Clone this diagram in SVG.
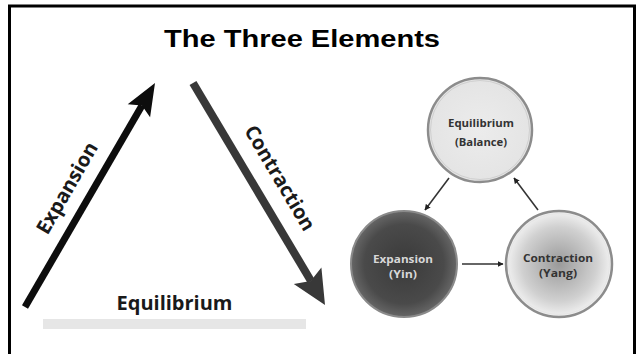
<svg xmlns="http://www.w3.org/2000/svg" width="637" height="354" viewBox="0 0 637 354">
  <style>
    .lbl { font-family: "Open Sans", "DejaVu Sans", sans-serif; font-weight: bold; }
    .big { font-size: 20px; fill: #1a1a1a; }
    .small { font-size: 10px; }
    .conn { stroke: #333; stroke-width: 1.6; fill: none; marker-end: url(#ah); }
  </style>
  <defs>
    <marker id="ah" viewBox="0 0 10 10" refX="9" refY="5" markerWidth="6" markerHeight="6" orient="auto" markerUnits="userSpaceOnUse">
      <path d="M0,0 L10,5 L0,10 Z" fill="#222"/>
    </marker>
    <radialGradient id="gTop" cx="50%" cy="50%" r="50%">
      <stop offset="0%" stop-color="#ececec"/>
      <stop offset="100%" stop-color="#e4e4e4"/>
    </radialGradient>
    <radialGradient id="gExp" cx="50%" cy="50%" r="50%">
      <stop offset="0%" stop-color="#3a3a3a"/>
      <stop offset="75%" stop-color="#4a4a4a"/>
      <stop offset="100%" stop-color="#666"/>
    </radialGradient>
    <radialGradient id="gCon" cx="50%" cy="50%" r="50%">
      <stop offset="0%" stop-color="#9a9a9a"/>
      <stop offset="70%" stop-color="#d0d0d0"/>
      <stop offset="100%" stop-color="#f2f2f2"/>
    </radialGradient>
  </defs>

  <rect width="637" height="354" fill="#fff"/>
  <path d="M9.5,354 V6 H634.5 V354" fill="none" stroke="#000" stroke-width="3"/>

  <text x="302" y="47" font-family="Liberation Sans, Arial, sans-serif" font-weight="bold" font-size="23" text-anchor="middle" textLength="276" lengthAdjust="spacingAndGlyphs" fill="#000">The Three Elements</text>

  <!-- left triangle -->
  <g id="expansion-arrow">
    <line x1="25" y1="307" x2="142" y2="105.5" stroke="#0d0d0d" stroke-width="7"/>
    <polygon points="155,83 150.1,117.2 141.9,105.5 127.7,104.2" fill="#0d0d0d"/>
    <text class="lbl big" transform="translate(67,188) rotate(-60)" x="0" y="7" text-anchor="middle">Expansion</text>
  </g>
  <g id="contraction-arrow">
    <line x1="193" y1="83" x2="311" y2="281" stroke="#383838" stroke-width="8"/>
    <polygon points="325,305 293.8,284 310.7,281 321.4,267.6" fill="#383838"/>
    <text class="lbl big" transform="translate(280,178) rotate(59.3)" x="0" y="7" text-anchor="middle">Contraction</text>
  </g>
  <g id="equilibrium-base">
    <rect x="43" y="319" width="263" height="10" fill="#e6e6e6"/>
    <text class="lbl big" x="174.5" y="310" text-anchor="middle">Equilibrium</text>
  </g>

  <!-- right cycle -->
  <g id="node-equilibrium">
    <circle cx="480" cy="130" r="52" fill="url(#gTop)" stroke="#8c8c8c" stroke-width="2.5"/>
    <circle cx="480" cy="130" r="49.5" fill="none" stroke="#cfcfcf" stroke-width="1"/>
    <text class="lbl small" x="481" y="127" text-anchor="middle" fill="#333" textLength="66" lengthAdjust="spacingAndGlyphs">Equilibrium</text>
    <text class="lbl small" x="481" y="146" text-anchor="middle" fill="#333" textLength="52" lengthAdjust="spacingAndGlyphs">(Balance)</text>
  </g>
  <g id="node-expansion">
    <circle cx="404" cy="264" r="53" fill="url(#gExp)" stroke="#8a8a8a" stroke-width="2"/>
    <text class="lbl small" x="403" y="263" text-anchor="middle" fill="#d8d8d8" textLength="60" lengthAdjust="spacingAndGlyphs">Expansion</text>
    <text class="lbl small" x="403" y="278" text-anchor="middle" fill="#d8d8d8" textLength="28" lengthAdjust="spacingAndGlyphs">(Yin)</text>
  </g>
  <g id="node-contraction">
    <circle cx="559" cy="264" r="53" fill="url(#gCon)" stroke="#8c8c8c" stroke-width="2.5"/>
    <circle cx="559" cy="264" r="50.5" fill="none" stroke="#e6e6e6" stroke-width="1"/>
    <text class="lbl small" x="558" y="262" text-anchor="middle" fill="#333" textLength="70" lengthAdjust="spacingAndGlyphs">Contraction</text>
    <text class="lbl small" x="558" y="277" text-anchor="middle" fill="#333" textLength="38" lengthAdjust="spacingAndGlyphs">(Yang)</text>
  </g>

  <g id="connectors">
    <line class="conn" x1="449" y1="178" x2="425" y2="210"/>
    <line class="conn" x1="462" y1="264" x2="503" y2="264"/>
    <line class="conn" x1="538" y1="210" x2="514" y2="178"/>
  </g>
</svg>
